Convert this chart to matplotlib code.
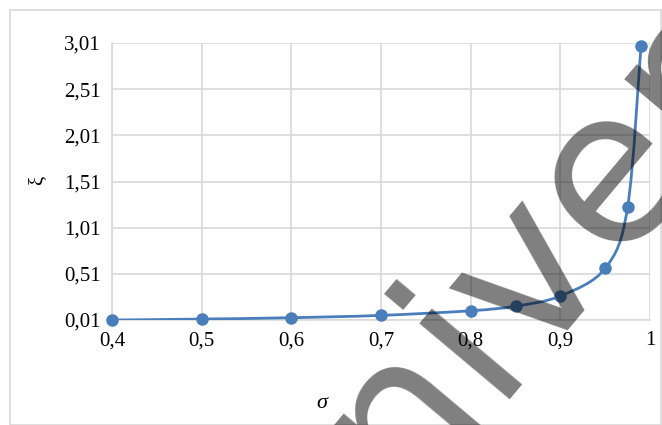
import numpy as np
import matplotlib
matplotlib.use("Agg")
import matplotlib.pyplot as plt
from matplotlib.path import Path
from matplotlib.patches import PathPatch, Rectangle

sigma = [0.4, 0.5, 0.6, 0.7, 0.8, 0.85, 0.9, 0.95, 0.975, 0.99]
xi = [0.01, 0.02, 0.035, 0.06, 0.11, 0.16, 0.27, 0.57, 1.23, 2.98]
xticks = [0.4, 0.5, 0.6, 0.7, 0.8, 0.9, 1.0]
xlabels = ["0,4", "0,5", "0,6", "0,7", "0,8", "0,9", "1"]
yticks = [0.01, 0.51, 1.01, 1.51, 2.01, 2.51, 3.01]
ylabels = ["0,01", "0,51", "1,01", "1,51", "2,01", "2,51", "3,01"]

blue = "#4a7ebb"
plt.rcParams["font.family"] = ["Liberation Serif", "DejaVu Serif"]

fig = plt.figure(figsize=(6.62, 4.25), dpi=100)
ax = fig.add_axes([112 / 662, 1 - 320 / 425, 538 / 662, 277 / 425])

# chart area border
fig.patches.append(Rectangle((10 / 662, 0), 651 / 662, 415 / 425, transform=fig.transFigure,
                             fill=False, edgecolor="#d9d9d9", linewidth=1.2))


def smooth_path(x, y, t=1 / 6):
    # Catmull-Rom style bezier, similar to Excel smoothed line
    pts = np.column_stack([x, y])
    verts = [pts[0]]
    codes = [Path.MOVETO]
    n = len(pts)
    for i in range(n - 1):
        p0 = pts[i - 1] if i > 0 else pts[i]
        p1 = pts[i]
        p2 = pts[i + 1]
        p3 = pts[i + 2] if i + 2 < n else pts[i + 1]
        c1 = p1 + (p2 - p0) * t
        c2 = p2 - (p3 - p1) * t
        verts += [c1, c2, p2]
        codes += [Path.CURVE4] * 3
    return Path(verts, codes)


ax.set_xlim(0.4, 1.0)
ax.set_ylim(0.01, 3.01)
# smoothing is done in display space so it looks like Excel
disp = ax.transData.transform(np.column_stack([sigma, xi]))
path = smooth_path(disp[:, 0], disp[:, 1])
ax.add_patch(PathPatch(path, transform=None, fill=False, edgecolor=blue, linewidth=2, zorder=3))
ax.plot(sigma, xi, linestyle="none", marker="o", markersize=8, color=blue, zorder=4, clip_on=False)

ax.set_xticks(xticks)
ax.set_xticklabels(xlabels)
ax.set_yticks(yticks)
ax.set_yticklabels(ylabels)
ax.tick_params(length=0, labelsize=15, pad=8)
ax.grid(True, color="#d9d9d9", linewidth=1.2)
ax.set_axisbelow(True)
for s in ["top", "right"]:
    ax.spines[s].set_visible(False)
ax.spines["left"].set_color("#d9d9d9")
ax.spines["bottom"].set_color("#d9d9d9")
ax.spines["left"].set_linewidth(1.2)
ax.spines["bottom"].set_linewidth(1.2)

fig.text(322 / 662, 1 - 403 / 425, "σ", fontsize=16, style="italic", ha="center", va="center")
fig.text(38 / 662, 1 - 180 / 425, "ξ", fontsize=15, rotation=90, ha="center", va="center")

# watermark
fig.text(482 / 662, 1 - 318 / 425, "Univer", fontsize=155, family="DejaVu Sans",
         color="black", alpha=0.5, rotation=50, ha="center", va="center", zorder=10)

fig.savefig("out.png", dpi=100)
